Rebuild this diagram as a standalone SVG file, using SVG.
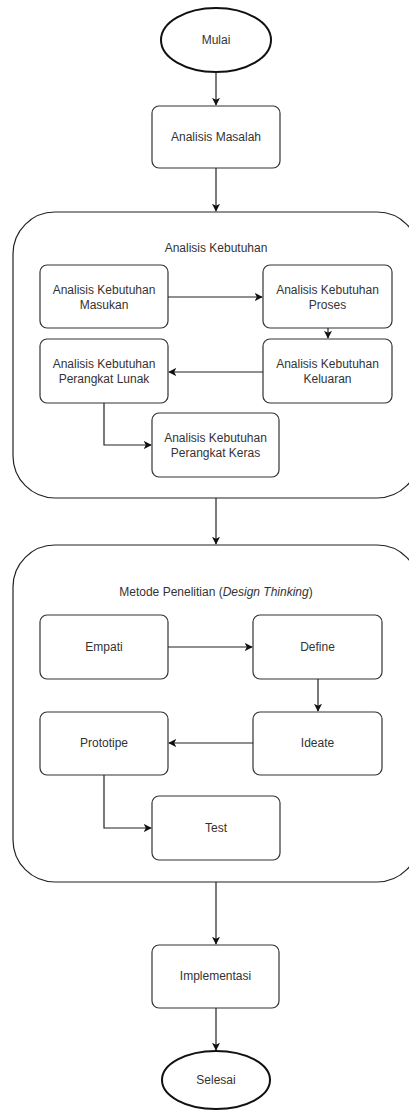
<svg xmlns="http://www.w3.org/2000/svg" width="409" height="1111" viewBox="0 0 409 1111">
  <style>
    .box { fill: #ffffff; stroke: #333333; stroke-width: 1.2; }
    .term { fill: #ffffff; stroke: #111111; stroke-width: 2; }
    .group { fill: #ffffff; stroke: #222222; stroke-width: 1.2; }
    .lbl { font-family: "Liberation Sans", Arial, sans-serif; font-size: 12px; fill: #333333; text-anchor: middle; }
    .edge { fill: none; stroke: #222222; stroke-width: 1.2; }
  </style>
  <defs>
    <marker id="arrow" viewBox="0 0 10 10" refX="9" refY="5" markerWidth="8" markerHeight="8" markerUnits="userSpaceOnUse" orient="auto">
      <path d="M0,0 L10,5 L0,10 L2.5,5 Z" fill="#111111"/>
    </marker>
  </defs>

  <rect width="409" height="1111" fill="#ffffff"/>

  <!-- containers (wider than the canvas on the right) -->
  <g id="analisis-kebutuhan">
    <rect class="group" x="13" y="212" width="406" height="286" rx="42" ry="42"/>
    <text class="lbl" x="216" y="252">Analisis Kebutuhan</text>
  </g>
  <g id="metode-penelitian">
    <rect class="group" x="13" y="545" width="406" height="337" rx="42" ry="42"/>
    <text class="lbl" x="216" y="596">Metode Penelitian (<tspan font-style="italic">Design Thinking</tspan>)</text>
  </g>

  <!-- terminals and steps -->
  <g id="mulai">
    <ellipse class="term" cx="216" cy="40" rx="55" ry="32"/>
    <text class="lbl" x="216" y="44">Mulai</text>
  </g>
  <g id="analisis-masalah">
    <rect class="box" x="152" y="106" width="128" height="62" rx="7"/>
    <text class="lbl" x="216" y="141">Analisis Masalah</text>
  </g>

  <g id="kebutuhan-masukan">
    <rect class="box" x="40" y="265" width="128" height="63" rx="7"/>
    <text class="lbl" x="104" y="294">Analisis Kebutuhan</text>
    <text class="lbl" x="104" y="309">Masukan</text>
  </g>
  <g id="kebutuhan-proses">
    <rect class="box" x="263" y="265" width="129" height="63" rx="7"/>
    <text class="lbl" x="327.5" y="294">Analisis Kebutuhan</text>
    <text class="lbl" x="327.5" y="309">Proses</text>
  </g>
  <g id="kebutuhan-keluaran">
    <rect class="box" x="263" y="339" width="129" height="64" rx="7"/>
    <text class="lbl" x="327.5" y="368">Analisis Kebutuhan</text>
    <text class="lbl" x="327.5" y="383">Keluaran</text>
  </g>
  <g id="kebutuhan-perangkat-lunak">
    <rect class="box" x="40" y="339" width="128" height="64" rx="7"/>
    <text class="lbl" x="104" y="368">Analisis Kebutuhan</text>
    <text class="lbl" x="104" y="383">Perangkat Lunak</text>
  </g>
  <g id="kebutuhan-perangkat-keras">
    <rect class="box" x="152" y="413" width="127" height="64" rx="7"/>
    <text class="lbl" x="215.5" y="442">Analisis Kebutuhan</text>
    <text class="lbl" x="215.5" y="457">Perangkat Keras</text>
  </g>

  <g id="empati">
    <rect class="box" x="40" y="615" width="128" height="64" rx="7"/>
    <text class="lbl" x="104" y="651">Empati</text>
  </g>
  <g id="define">
    <rect class="box" x="253" y="615" width="129" height="64" rx="7"/>
    <text class="lbl" x="317.5" y="651">Define</text>
  </g>
  <g id="ideate">
    <rect class="box" x="253" y="712" width="129" height="63" rx="7"/>
    <text class="lbl" x="317.5" y="747">Ideate</text>
  </g>
  <g id="prototipe">
    <rect class="box" x="40" y="712" width="128" height="63" rx="7"/>
    <text class="lbl" x="104" y="747">Prototipe</text>
  </g>
  <g id="test">
    <rect class="box" x="152" y="796" width="128" height="64" rx="7"/>
    <text class="lbl" x="216" y="832">Test</text>
  </g>

  <g id="implementasi">
    <rect class="box" x="152" y="945" width="127" height="63" rx="7"/>
    <text class="lbl" x="215.5" y="980">Implementasi</text>
  </g>
  <g id="selesai">
    <ellipse class="term" cx="216" cy="1080" rx="54" ry="29"/>
    <text class="lbl" x="216" y="1084">Selesai</text>
  </g>

  <!-- connectors -->
  <g id="connectors">
    <path class="edge" d="M216,72 L216,105" marker-end="url(#arrow)"/>
    <path class="edge" d="M216,168 L216,211" marker-end="url(#arrow)"/>
    <path class="edge" d="M168,297 L262,297" marker-end="url(#arrow)"/>
    <path class="edge" d="M328,328 L328,338" marker-end="url(#arrow)"/>
    <path class="edge" d="M263,372 L169,372" marker-end="url(#arrow)"/>
    <path class="edge" d="M104,403 L104,445 L151,445" marker-end="url(#arrow)"/>
    <path class="edge" d="M216,498 L216,544" marker-end="url(#arrow)"/>
    <path class="edge" d="M168,647 L252,647" marker-end="url(#arrow)"/>
    <path class="edge" d="M318,679 L318,711" marker-end="url(#arrow)"/>
    <path class="edge" d="M253,743 L169,743" marker-end="url(#arrow)"/>
    <path class="edge" d="M104,775 L104,828 L151,828" marker-end="url(#arrow)"/>
    <path class="edge" d="M216,882 L216,944" marker-end="url(#arrow)"/>
    <path class="edge" d="M216,1008 L216,1050" marker-end="url(#arrow)"/>
  </g>
</svg>
